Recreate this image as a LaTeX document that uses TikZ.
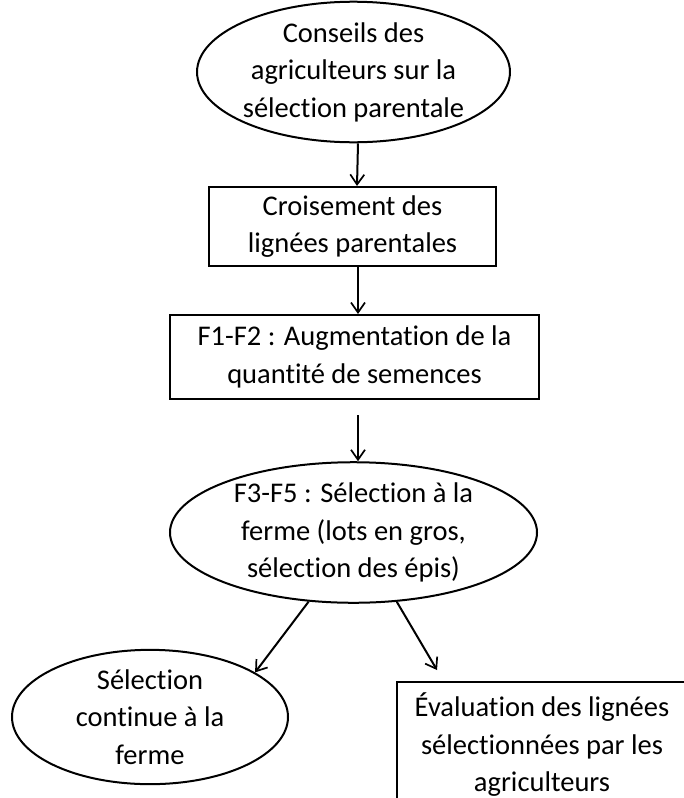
\documentclass[tikz,border=0pt]{standalone}
\usepackage{fontspec}
\setmainfont[Ligatures={NoCommon}]{Carlito}
\usetikzlibrary{shapes.geometric,arrows.meta}
\begin{document}
\begin{tikzpicture}[x=1pt,y=-1pt,
  txt/.style={font=\fontsize{28.5}{37.5}\selectfont, align=center, text=black},
  ell/.style={txt, draw, ellipse, line width=2pt, inner sep=0pt},
  boxnode/.style={txt, draw, rectangle, line width=2pt, inner sep=0pt},
  arr/.style={-{Straight Barb[length=10pt,width=14pt,line width=1.7pt]}, line width=2pt}]
\useasboundingbox (0,0) rectangle (683,798);
\node[ell, minimum width=307pt, minimum height=130pt] (e1) at (353.5,72)
  {Conseils des\\agriculteurs sur la\\sélection parentale};
\node[boxnode, minimum width=287pt, minimum height=79pt] (b1) at (352.5,226.5)
  {Croisement des\\lignées parentales};
\node[boxnode, minimum width=369pt, minimum height=84pt] (b2) at (354.5,357)
  {F1-F2 : Augmentation de la\\quantité de semences};
\node[ell, minimum width=367pt, minimum height=139pt] (e2) at (353.5,532.5)
  {F3-F5 : Sélection à la\\ferme (lots en gros,\\sélection des épis)};
\node[ell, minimum width=276pt, minimum height=130pt] (e3) at (150,717)
  {Sélection\\continue à la\\ferme};
\node[boxnode, minimum width=290pt, minimum height=126pt] (b3) at (542,745)
  {Évaluation des lignées\\sélectionnées par les\\agriculteurs};
\coordinate (a3s) at (358,415);
\coordinate (a5t) at (437,670);
\draw[arr] ([xshift=4.5pt]e1.south) -- ([xshift=4.5pt]b1.north);
\draw[arr] ([xshift=5.5pt]b1.south) -- (a3s |- b2.north);
\draw[arr] (a3s) -- (a3s |- e2.north);
\draw[arr] (e2.237) -- (e3.23);
\draw[arr] (e2.302) -- (a5t);
\end{tikzpicture}
\end{document}
